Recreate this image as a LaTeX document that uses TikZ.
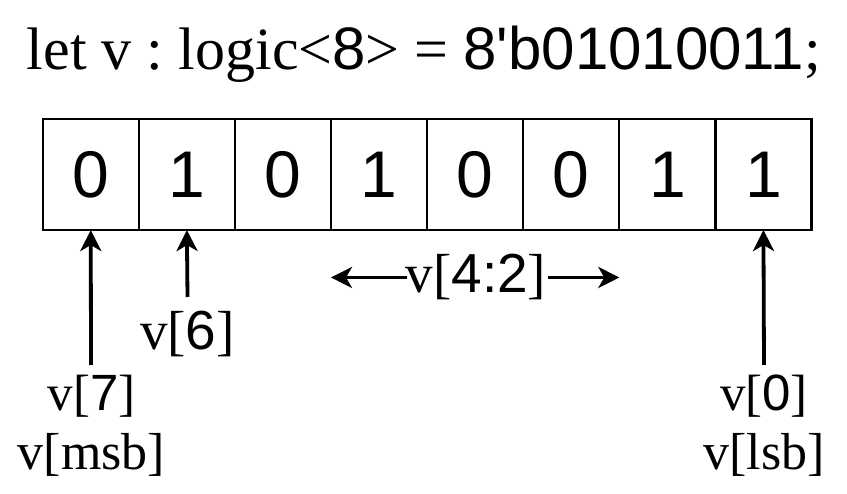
\documentclass[tikz,border=0pt]{standalone}
\usepackage{fontspec}
\setmainfont{Liberation Serif}
\newfontfamily\arialf[Ligatures=TeXOff]{Liberation Sans}
\usetikzlibrary{arrows.meta,calc}
\newcommand{\fsz}[1]{\fontsize{#1}{#1}\selectfont}
\newcommand{\lbl}[2]{{\fsz{#1}v[}{\arialf\fsz{#1}#2}{\fsz{#1}]}}
\tikzset{
  cell/.style={draw, line width=2.2pt, minimum width=96.1pt, minimum height=110.7pt, inner sep=0pt, outer sep=0pt, font=\arialf\fsz{66}},
  arr/.style={line width=3.8pt, -{Stealth[length=21pt,width=21pt,inset=6pt]}},
  txt/.style={inner sep=0pt, outer sep=0pt}
}
\begin{document}
\frenchspacing
\begin{tikzpicture}[x=1pt,y=-1pt]
\useasboundingbox (0,0) rectangle (847,494);
\node[txt, anchor=base west] (title) at (27,70) {\frenchspacing{\fsz{60}let v : logic<}{\arialf\fsz{60}8}{\fsz{60}> = }{\arialf\fsz{60}8\char39 b01010011}{\fsz{60};}};
\foreach \b [count=\i from 0] in {0,1,0,1,0,0,1,1} {
  \node[cell] (c\i) at ({42.7+96.1*(\i+0.5)},174.7) {\b};
}
\node[txt, anchor=base] (l6) at (187.5,350) {\lbl{55}{6}};
\node[txt, anchor=base] (l7) at (91.5,411) {\lbl{51}{7}};
\node[txt, anchor=base] (lmsb) at (91.5,470) {{\fsz{52}v[msb]}};
\node[txt, anchor=base] (l0) at (764,411) {\lbl{51}{0}};
\node[txt, anchor=base] (llsb) at (764,470) {{\fsz{52}v[lsb]}};
\node[txt, anchor=base] (l42) at (476,293) {\lbl{55}{4:2}};
\coordinate (a7) at (91,365);
\coordinate (a6) at (187.5,297);
\coordinate (a0) at (764,365);
\draw[arr] (a7) -- (c0.south);
\draw[arr] (a6) -- (c1.south);
\draw[arr] (a0) -- (c7.south);
\draw[arr] ([xshift=1pt]l42.west) -- (c3.south west |- l42.west);
\draw[arr] ([xshift=2pt]l42.east) -- (c5.south east |- l42.east);
\end{tikzpicture}
\end{document}
